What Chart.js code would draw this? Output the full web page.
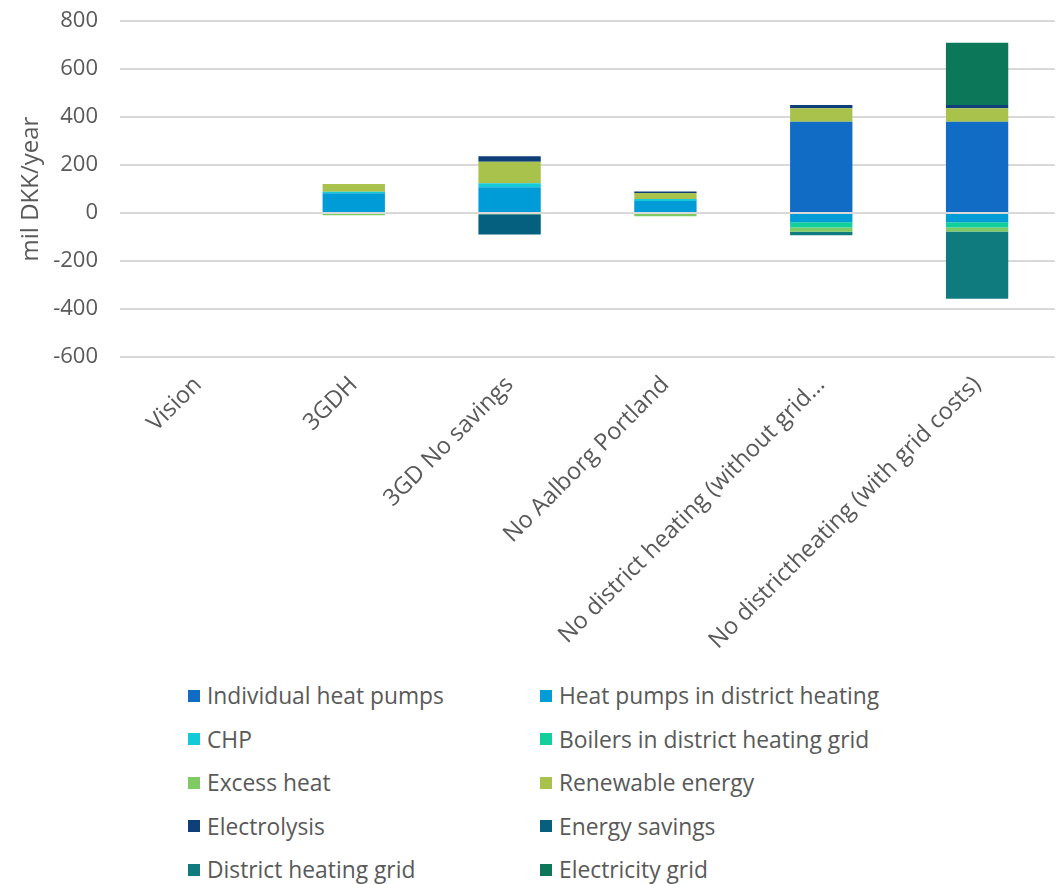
<!DOCTYPE html>
<html>
<head>
<meta charset="utf-8">
<script src="https://cdn.jsdelivr.net/npm/chart.js@4.4.1/dist/chart.umd.min.js"></script>
<style>
  html, body { margin: 0; padding: 0; background: #fff; }
  #wrap { position: relative; width: 1056px; height: 884px; }
  #chart { position: absolute; left: 0; top: 0; }
  #legend {
    position: absolute; left: 188px; top: 674px;
    display: grid; grid-template-columns: 352px 370px; grid-auto-rows: 43.5px;
    font-family: "Open Sans", sans-serif; font-size: 22.8px; color: #595959;
  }
  .item { display: flex; align-items: center; white-space: nowrap; }
  .box { width: 12px; height: 12px; margin-right: 7px; flex: none; }
</style>
</head>
<body>
<div id="wrap">
  <canvas id="chart" width="1056" height="670"></canvas>
  <div id="legend"></div>
</div>
<script>
// Scenarios along the x axis
const categories = [
  "Vision",
  "3GDH",
  "3GD No savings",
  "No Aalborg Portland",
  "No district heating (without grid...",
  "No districtheating (with grid costs)"
];

// Annual cost contributions, mil DKK/year
const individualHeatPumps   = [0, 0,   0,   0,  380,  380];
const heatPumpsDH           = [0, 82,  107, 50, -39,  -39];
const chp                   = [0, 7,   17,  8,  0,    0];
const boilersDH             = [0, 0,   0,   0,  -21,  -21];
const excessHeat            = [0, -9,  -5,  -14, -18, -17];
const renewableEnergy       = [0, 32,  90,  25, 56,   56];
const electrolysis          = [0, 0,   22,  7,  14,   14];
const energySavings         = [0, 0,   -85, 0,  0,    0];
const districtHeatingGrid   = [0, 0,   0,   0,  -15,  -280];
const electricityGrid       = [0, 0,   0,   0,  0,    259];

const yTicks = [-600, -400, -200, 0, 200, 400, 600, 800];

const series = [
  { label: "Individual heat pumps",           data: individualHeatPumps, color: "#106CC4" },
  { label: "Heat pumps in district heating",  data: heatPumpsDH,         color: "#009CD8" },
  { label: "CHP",                             data: chp,                 color: "#14CAD8" },
  { label: "Boilers in district heating grid",data: boilersDH,           color: "#12CF9C" },
  { label: "Excess heat",                     data: excessHeat,          color: "#7ECB64" },
  { label: "Renewable energy",                data: renewableEnergy,     color: "#A8C24B" },
  { label: "Electrolysis",                    data: electrolysis,        color: "#0E3F78" },
  { label: "Energy savings",                  data: energySavings,       color: "#05607F" },
  { label: "District heating grid",           data: districtHeatingGrid, color: "#0F7B7E" },
  { label: "Electricity grid",                data: electricityGrid,     color: "#0D7859" }
];

const textColor = "#595959";
const font = "'Open Sans', sans-serif";

new Chart(document.getElementById("chart"), {
  type: "bar",
  data: {
    labels: categories,
    datasets: series.map(s => ({
      label: s.label,
      data: s.data,
      backgroundColor: s.color,
      borderWidth: 0,
      categoryPercentage: 0.4,
      barPercentage: 1
    }))
  },
  options: {
    responsive: false,
    animation: false,
    layout: { padding: { top: 21, right: 1, left: 0, bottom: 0 } },
    plugins: {
      legend: { display: false },
      tooltip: { enabled: false }
    },
    scales: {
      x: {
        stacked: true,
        grid: { display: false },
        border: { display: false },
        ticks: {
          color: textColor,
          font: { family: font, size: 23.5 },
          minRotation: 45,
          maxRotation: 45,
          autoSkip: false,
          padding: 6
        },
        afterFit: s => { s.height = 313; s.paddingTop = 0; s.paddingBottom = 0; }
      },
      y: {
        stacked: true,
        min: yTicks[0],
        max: yTicks[yTicks.length - 1],
        afterBuildTicks: s => { s.ticks = yTicks.map(v => ({ value: v })); },
        grid: { color: "#D9D9D9", lineWidth: 2, drawTicks: false },
        border: { display: false },
        ticks: {
          color: textColor,
          font: { family: font, size: 22 },
          padding: 22
        },
        title: {
          display: true,
          text: "mil DKK/year",
          color: textColor,
          font: { family: font, size: 24 },
          padding: { top: 17, bottom: 0 }
        },
        afterFit: s => { s.width = 120; s.paddingTop = 0; s.paddingBottom = 0; }
      }
    }
  }
});

// Two-column legend below the plot
const legend = document.getElementById("legend");
series.forEach(s => {
  const item = document.createElement("div");
  item.className = "item";
  const box = document.createElement("span");
  box.className = "box";
  box.style.background = s.color;
  const txt = document.createElement("span");
  txt.textContent = s.label;
  item.appendChild(box);
  item.appendChild(txt);
  legend.appendChild(item);
});
</script>
</body>
</html>
